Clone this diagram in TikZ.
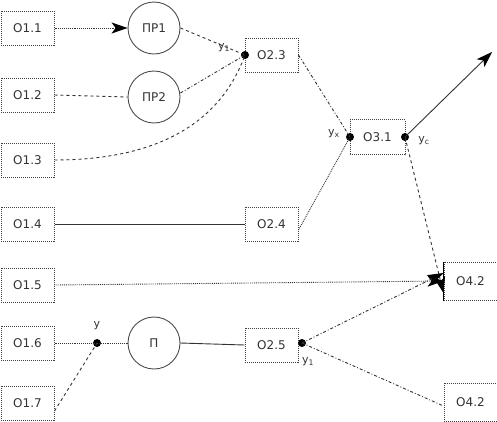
\documentclass[tikz,border=0pt]{standalone}
\usepackage{fontspec}
\setmainfont{DejaVu Sans}
\usetikzlibrary{arrows.meta}
\tikzset{
  box/.style={draw=black!75, densely dotted, line width=1pt, minimum width=53pt, minimum height=34pt, inner sep=0pt, font=\fontsize{12}{14}\selectfont, text=black!80},
  circ/.style={circle, draw=black!70, line width=0.9pt, minimum size=52pt, inner sep=0pt, font=\fontsize{12}{14}\selectfont, text=black!80},
  dot/.style={circle, fill=black, minimum size=8pt, inner sep=0pt},
  conn/.style={draw=black!80, line width=0.9pt},
  arr/.style={-{Stealth[length=16pt,width=11pt,inset=4pt,black]}},
  lab/.style={font=\fontsize{11}{13}\selectfont, text=black!80, inner sep=1pt}
}
\begin{document}
\begin{tikzpicture}[x=1pt,y=-1pt]
\useasboundingbox (0,0) rectangle (497,421);
% left column
\node[box] (O11) at (27.5,28) {O1.1};
\node[box] (O12) at (27.5,95) {O1.2};
\node[box] (O13) at (27.5,160) {O1.3};
\node[box] (O14) at (27.5,224) {O1.4};
\node[box] (O15) at (27.5,285) {O1.5};
\node[box] (O16) at (27.5,343) {O1.6};
\node[box] (O17) at (27.5,403) {O1.7};
% circles
\node[circ] (PR1) at (154,28) {ПР1};
\node[circ] (PR2) at (154,97) {ПР2};
\node[circ] (P) at (154,343) {П};
% second column
\node[box] (O23) at (271.5,55) {O2.3};
\node[box] (O24) at (271.5,224) {O2.4};
\node[box] (O25) at (271.5,345) {O2.5};
\node[box, minimum width=55pt, minimum height=35pt] (O31) at (377.5,137) {O3.1};
\node[box, minimum height=38pt] (O42a) at (470.5,281) {O4.2};
\node[box, minimum height=38pt] (O42b) at (470.5,402) {O4.2};
% junction dots
\node[dot] (j1) at (245,55) {};
\node[dot] (jx) at (350,137) {};
\node[dot] (jc) at (405,137) {};
\node[dot] (jy) at (302,343) {};
\node[dot] (j2) at (97,343) {};
\coordinate (out) at (492,52);
% labels
\node[lab] (l1) at (224,48) {y\textsubscript{1}};
\node[lab] (lx) at (334,134) {y\textsubscript{x}};
\node[lab] (lc) at (424,141) {y\textsubscript{c}};
\node[lab] (l5) at (308,362) {y\textsubscript{1}};
\node[lab] (l2) at (97,326) {y};
% thick left border on O4.2
\draw[line width=1.8pt] (O42a.north west) -- (O42a.south west);
% connectors
\draw[conn, densely dotted, arr] (O11.east) -- (PR1.west);
\draw[conn, dashed] (O12.east) -- (PR2.west);
\draw[conn, dashed] (PR1.east) -- (j1.center);
\draw[conn, dash dot] (PR2.east) ++(0,-4) -- (j1.center);
\draw[conn, dashed] (O13.east) to[out=0, in=250] (j1.center);
\draw[conn, dash dot] (O23.east) -- (jx.center);
\draw[conn, arr] (jc.center) -- (out);
\draw[conn, dashed, arr] (jc.center) -- ([yshift=-12pt]O42a.west);
\draw[conn] (O14.east) -- (O24.west);
\draw[conn, densely dotted] ([yshift=-6pt]O24.east) -- (jx.center);
\draw[conn, densely dotted, arr] (O15.east) -- (O42a.west);
\draw[conn, dash dot, arr] (jy.center) -- ([yshift=8pt]O42a.west);
\draw[conn, dash dot] (jy.center) -- ([yshift=-4pt]O42b.west);
\draw[conn, densely dotted] (O16.east) -- (j2.center);
\draw[conn, densely dotted] (j2.center) -- (P.west);
\draw[conn] (P.east) -- (O25.west);
\draw[conn, dashed] ([yshift=-8pt]O17.east) -- (j2.center);
\end{tikzpicture}
\end{document}
